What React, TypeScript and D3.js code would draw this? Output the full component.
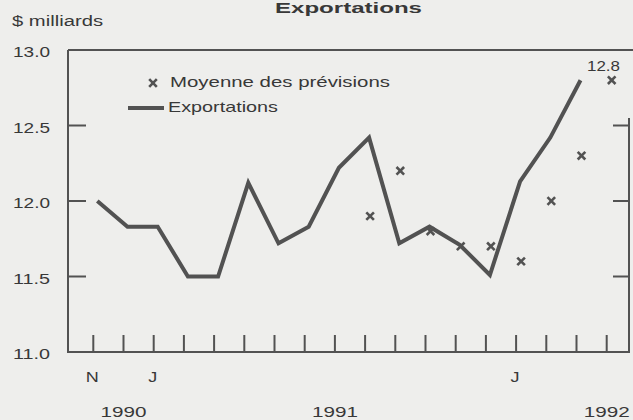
import React from "react";
import * as d3 from "d3";

const months = ["N","D","J","F","M","A","M","J","J","A","S","O","N","D","J","F","M","A"];
const exportValues = [12.0, 11.83, 11.83, 11.5, 11.5, 12.12, 11.72, 11.83, 12.22, 12.42, 11.72, 11.83, 11.71, 11.51, 12.13, 12.42, 12.8];
const forecastIndex = [9, 10, 11, 12, 13, 14, 15, 16, 17];
const forecastValues = [11.9, 12.2, 11.8, 11.7, 11.7, 11.6, 12.0, 12.3, 12.8];
const yTicks = [13.0, 12.5, 12.0, 11.5, 11.0];
const monthLabelIdx = [0, 2, 14];
const yearLabels = [
  { label: "1990", at: 1 },
  { label: "1991", at: 8 },
  { label: "1992", at: 17 },
];

const W = 633, H = 420;
const left = 68, top = 50, bottom = 352, right = 629;
const ink = "#383838";
const stroke = "#525252";
const font = "'Liberation Sans', Arial, Helvetica, sans-serif";

export default function App() {
  const x = d3.scaleLinear().domain([0, 17]).range([97.3, 610.7]);
  const y = d3.scaleLinear().domain([11, 13]).range([bottom, top]);
  const line = d3.line<number>().x((_, i) => x(i)).y((d) => y(d)).curve(d3.curveLinear);
  const tickX = (i: number) => x(i) - 4;

  const cross = (cx: number, cy: number, r: number, key: string) => (
    <g key={key} stroke={stroke} strokeWidth={2.6} strokeLinecap="butt">
      <line x1={cx - r} y1={cy - r} x2={cx + r} y2={cy + r} />
      <line x1={cx - r} y1={cy + r} x2={cx + r} y2={cy - r} />
    </g>
  );

  return (
    <svg width={W} height={H} style={{ position: "absolute", left: 0, top: 0, background: "#eeeeec" }}>
      <rect x={0} y={0} width={W} height={H} fill="#eeeeec" />
      <text x={275} y={13} fontFamily={font} fontWeight="bold" fontSize={15} fill={ink} textLength={147} lengthAdjust="spacingAndGlyphs">Exportations</text>
      <text x={12} y={26} fontFamily={font} fontSize={14} fill={ink} textLength={91} lengthAdjust="spacingAndGlyphs">$ milliards</text>

      {/* frame */}
      <g stroke={stroke} strokeWidth={2} fill="none">
        <line x1={left} y1={top} x2={W} y2={top} />
        <line x1={left} y1={top} x2={left} y2={bottom + 1} />
        <line x1={left - 1} y1={bottom} x2={right + 1} y2={bottom} />
        <line x1={right} y1={118} x2={right} y2={bottom} />
      </g>

      {/* y ticks + labels */}
      {yTicks.map((t) => (
        <g key={t}>
          {t > 11 && t < 13 && (
            <g stroke={stroke} strokeWidth={2}>
              <line x1={left} y1={y(t)} x2={left + 18} y2={y(t)} />
              <line x1={right - 16} y1={y(t)} x2={right} y2={y(t)} />
            </g>
          )}
          <text x={13} y={y(t) + 7} fontFamily={font} fontSize={15} fill={ink} textLength={37} lengthAdjust="spacingAndGlyphs">{t.toFixed(1)}</text>
        </g>
      ))}

      {/* x ticks */}
      {months.map((m, i) => (
        <line key={i} x1={tickX(i)} y1={bottom} x2={tickX(i)} y2={bottom - 17} stroke={stroke} strokeWidth={2} />
      ))}
      {monthLabelIdx.map((i) => (
        <text key={i} x={tickX(i) - 1} y={382} textAnchor="middle" fontFamily={font} fontSize={15} fill={ink} transform={`translate(${tickX(i) - 1},0) scale(1.2,1) translate(${-(tickX(i) - 1)},0)`}>{months[i]}</text>
      ))}
      {yearLabels.map((yl) => (
        <text key={yl.label} x={tickX(yl.at) - 23} y={417} fontFamily={font} fontSize={15} fill={ink} textLength={46} lengthAdjust="spacingAndGlyphs">{yl.label}</text>
      ))}

      {/* exports line */}
      <path d={line(exportValues) || ""} fill="none" stroke={stroke} strokeWidth={4} strokeLinejoin="miter" strokeLinecap="butt" />

      {/* forecasts */}
      {forecastValues.map((v, k) => cross(x(forecastIndex[k]) + 1, y(v), 3.8, "f" + k))}
      <text x={587} y={71} fontFamily={font} fontSize={15} fill={ink} textLength={33} lengthAdjust="spacingAndGlyphs">{forecastValues[forecastValues.length - 1].toFixed(1)}</text>

      {/* legend */}
      {cross(153, 83, 3.8, "leg")}
      <text x={170} y={87} fontFamily={font} fontSize={15} fill={ink} textLength={220} lengthAdjust="spacingAndGlyphs">Moyenne des prévisions</text>
      <line x1={128} y1={108} x2={164} y2={108} stroke={stroke} strokeWidth={4} />
      <text x={168} y={112} fontFamily={font} fontSize={15} fill={ink} textLength={110} lengthAdjust="spacingAndGlyphs">Exportations</text>
    </svg>
  );
}
